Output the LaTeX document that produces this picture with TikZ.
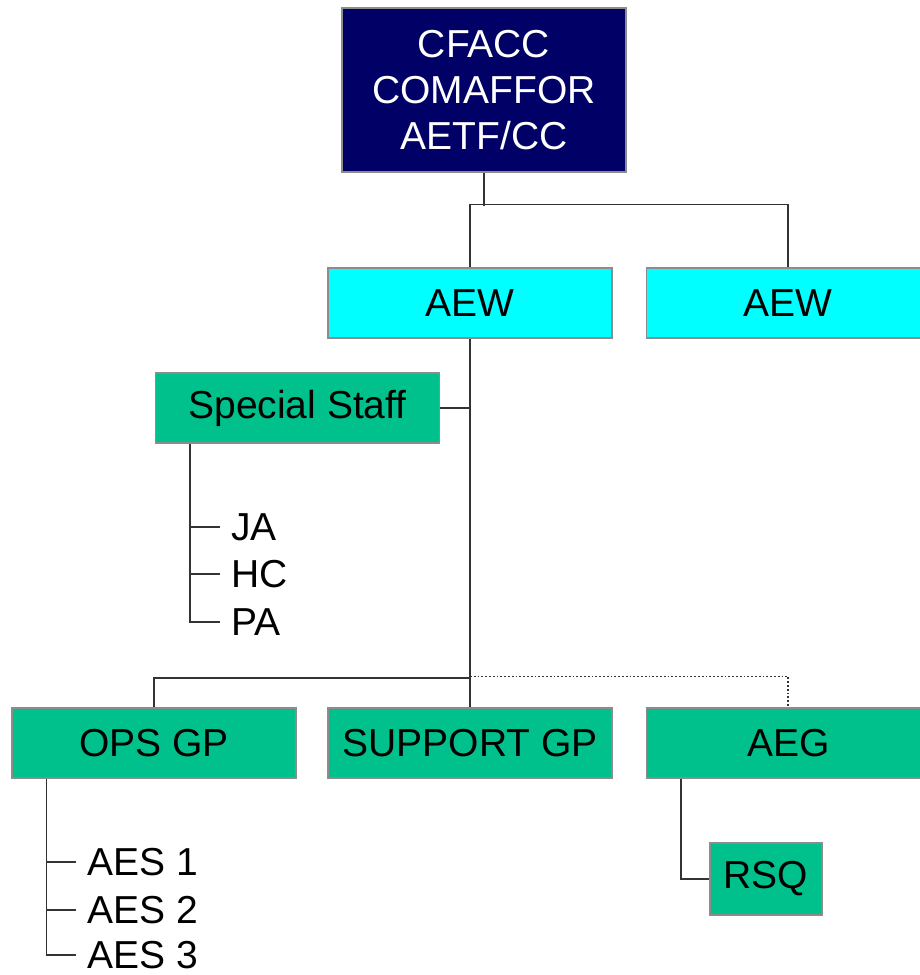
\documentclass[tikz,border=0pt]{standalone}
\usepackage{fontspec}
\setmainfont{Liberation Sans}
\usepackage{xcolor}
\usepackage{tikz}
\usetikzlibrary{positioning}

\definecolor{cmdnavy}{RGB}{0,0,102}
\definecolor{unitcyan}{RGB}{0,255,255}
\definecolor{unitgreen}{RGB}{0,192,140}

\begin{document}
\begin{tikzpicture}[every node/.style={font=\fontsize{19.5}{23}\selectfont}]

    % Styles for the boxes and the lines
    \tikzset{
        unitbox/.style={draw=black!45, line width=0.6pt, minimum width=142pt, minimum height=35pt, inner sep=2pt, align=center},
        cmdbox/.style={unitbox, fill=cmdnavy, text=white, minimum height=82pt},
        aewbox/.style={unitbox, fill=unitcyan},
        grpbox/.style={unitbox, fill=unitgreen},
        itemlabel/.style={anchor=west, inner sep=1pt},
        link/.style={draw=black!80, line width=0.9pt},
        dotlink/.style={link, densely dotted}
    }

    \useasboundingbox (0,0) rectangle (460pt,-487.5pt);

    % Command and wings
    \node[cmdbox] (cmd) at (242pt,-45pt) {CFACC\\COMAFFOR\\AETF/CC};
    \node[aewbox] (aew1) at (235pt,-151.5pt) {AEW};
    \node[aewbox, right=16.5pt of aew1] (aew2) {AEW};

    % Staff and groups
    \node[grpbox] (staff) at (148.75pt,-204pt) {Special Staff};
    \node[grpbox] (supgp) at (235pt,-371.5pt) {SUPPORT GP};
    \node[grpbox] (opsgp) at (77pt,-371.5pt) {OPS GP};
    \node[grpbox, right=16.5pt of supgp] (aeg) {AEG};
    \node[grpbox, minimum width=56pt, minimum height=36pt] (rsq) at (383pt,-439.5pt) {RSQ};

    % Staff members and squadrons
    \node[itemlabel] (ja) at (114.5pt,-263.5pt) {JA};
    \node[itemlabel] (hc) at (114.5pt,-287pt) {HC};
    \node[itemlabel] (pa) at (114.5pt,-311pt) {PA};
    \node[itemlabel] (aes1) at (42.5pt,-431pt) {AES 1};
    \node[itemlabel] (aes2) at (42.5pt,-455pt) {AES 2};
    \node[itemlabel] (aes3) at (42.5pt,-477.5pt) {AES 3};

    % Lines of command
    \draw[link] (cmd.south) -- ++(0,-16.5pt);
    \draw[link] (aew1.north) -- ++(0,31.5pt) -| (aew2.north);
    \draw[link] (aew1.south) -- ++(0,-169.5pt) -| (opsgp.north);
    \draw[link] (aew1.south) -- (supgp.north);
    \draw[link] (staff.east) -- (staff.east -| aew1.south);
    \draw[dotlink] ([yshift=15.5pt]supgp.north) -| (aeg.north);

    % Branches to the lists
    \draw[link] ([xshift=17.5pt]staff.south west) |- ([xshift=-4.5pt]pa.west);
    \draw[link] ([xshift=-4.5pt]ja.west) -- ++(-15pt,0);
    \draw[link] ([xshift=-4.5pt]hc.west) -- ++(-15pt,0);
    \draw[link] ([xshift=17.5pt]opsgp.south west) |- ([xshift=-4.5pt]aes3.west);
    \draw[link] ([xshift=-4.5pt]aes1.west) -- ++(-14.5pt,0);
    \draw[link] ([xshift=-4.5pt]aes2.west) -- ++(-14.5pt,0);
    \draw[link] ([xshift=17.5pt]aeg.south west) |- (rsq.west);

\end{tikzpicture}
\end{document}
